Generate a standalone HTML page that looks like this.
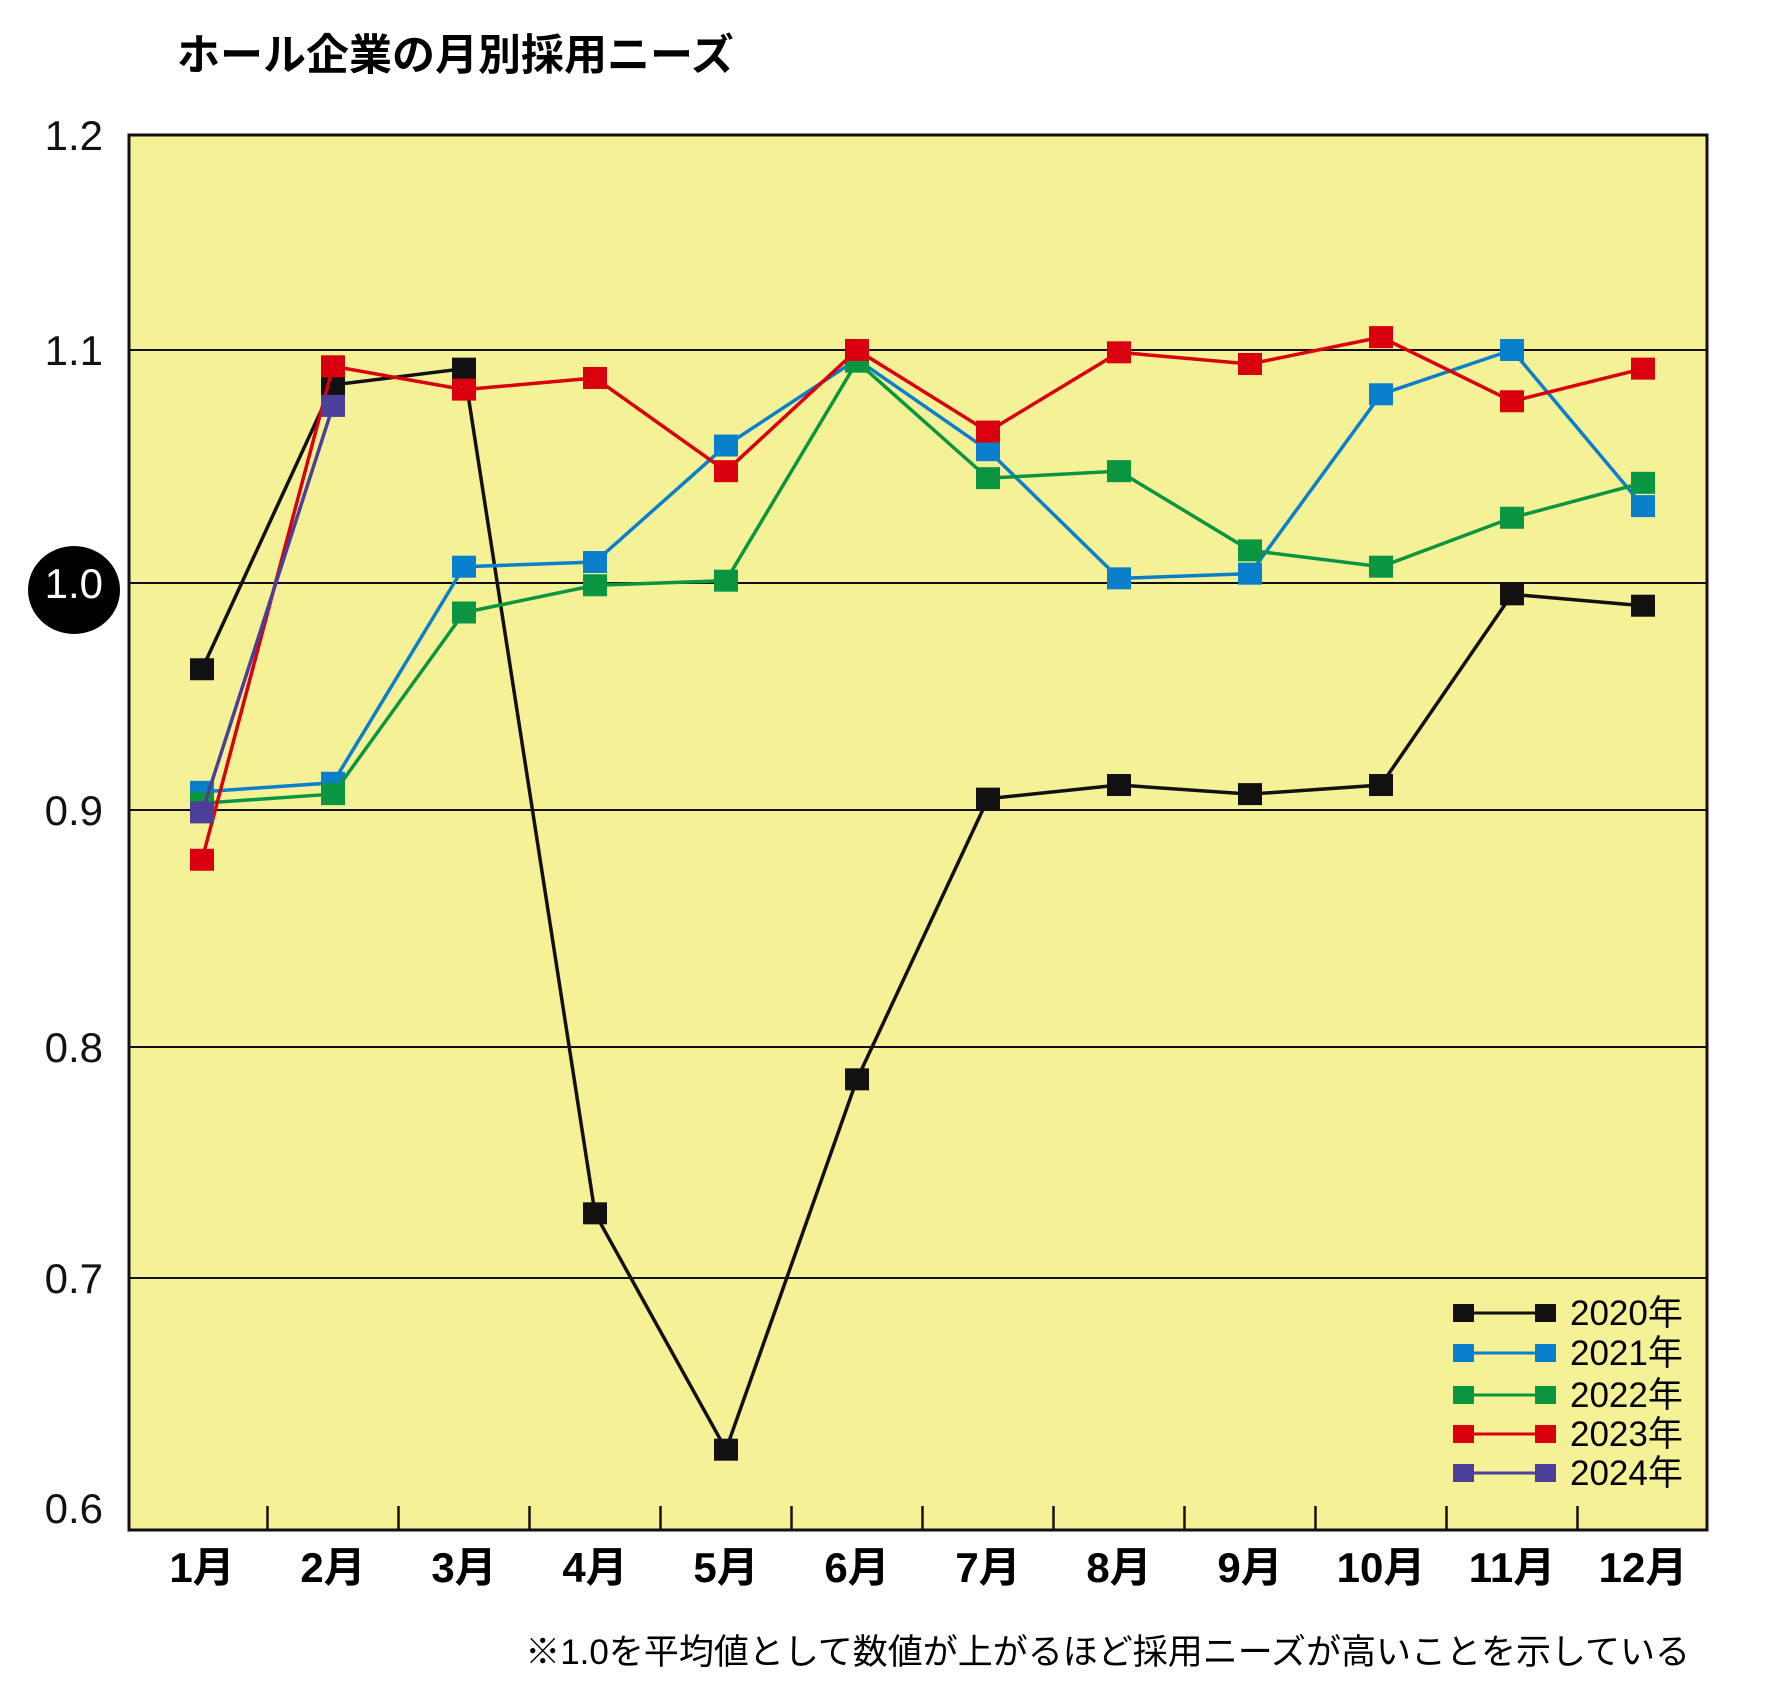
<!DOCTYPE html>
<html><head><meta charset="utf-8"><style>
html,body{margin:0;padding:0;background:#fff;}
svg{display:block;font-family:"Liberation Sans","Noto Sans CJK JP",sans-serif;}
</style></head><body>
<svg id="chart" width="1772" height="1697" viewBox="0 0 1772 1697">
<text x="177" y="70" font-size="43" font-weight="bold">ホール企業の月別採用ニーズ</text>
<rect x="129" y="135" width="1578" height="1395" fill="#F5F196" stroke="#111" stroke-width="3"/>
<g id="grid"></g><g id="yticks"></g><g id="xticks"></g><g id="series"></g><g id="legend"></g>
<text x="1690" y="1664" font-size="35" text-anchor="end">※1.0を平均値として数値が上がるほど採用ニーズが高いことを示している</text>
</svg>
<script>
const months = ["1月","2月","3月","4月","5月","6月","7月","8月","9月","10月","11月","12月"];
const yTicks = [1.2,1.1,1.0,0.9,0.8,0.7,0.6];
const yTickLabels = ["1.2","1.1","1.0","0.9","0.8","0.7","0.6"];
const years = ["2020年","2021年","2022年","2023年","2024年"];
const v2020 = [0.962,1.085,1.092,0.728,0.626,0.786,0.905,0.911,0.907,0.911,0.995,0.990];
const v2021 = [0.908,0.912,1.007,1.009,1.059,1.096,1.057,1.002,1.004,1.081,1.100,1.033];
const v2022 = [0.903,0.907,0.987,0.999,1.001,1.095,1.045,1.048,1.014,1.007,1.028,1.043];
const v2023 = [0.879,1.093,1.083,1.088,1.048,1.100,1.065,1.099,1.094,1.106,1.078,1.092];
const v2024 = [0.899,1.076];
const colors = ["#111111","#0A7FCB","#0A9640","#D9000F","#4C3F98"];
const seriesVals = [v2020,v2021,v2022,v2023,v2024];
const NS="http://www.w3.org/2000/svg";
const gridPx=[135,350,583,810,1047,1278,1510];
function y(v){
  for(let i=0;i<yTicks.length-1;i++){
    const a=yTicks[i],b=yTicks[i+1];
    if(v<=a&&v>=b||i===yTicks.length-2){return gridPx[i]+(a-v)/(a-b)*(gridPx[i+1]-gridPx[i]);}
  }
  return gridPx[0]+(yTicks[0]-v)/0.1*215;
}
function x(i){return 202+131*i;}
function mk(tag,attrs,parent){const e=document.createElementNS(NS,tag);for(const k in attrs)e.setAttribute(k,attrs[k]);parent.appendChild(e);return e;}
const grid=document.getElementById('grid'),yt=document.getElementById('yticks'),xt=document.getElementById('xticks'),sg=document.getElementById('series'),lg=document.getElementById('legend');
yTicks.forEach((t,i)=>{
  const yy=y(t);
  if(i>0&&i<yTicks.length-1){
    const l=mk('line',{x1:129,x2:1707,y1:yy,y2:yy,stroke:'#111','stroke-width':2},grid);
    
    
  }
  if(t===1.0){
    const e=mk('ellipse',{cx:74,cy:yy+7,rx:46,ry:44,fill:'#000'},yt);
    
    
  }
  const tx=mk('text',{x:103,y:(i===yTicks.length-1?1508:yy)+15,'font-size':42,'text-anchor':'end',fill:t===1.0?'#fff':'#111'},yt);
  tx.textContent=yTickLabels[i];
  
  
});
months.forEach((m,i)=>{
  if(i>0){
    const tk=mk('line',{x1:x(i)-65.5,x2:x(i)-65.5,y1:1506,y2:1530,stroke:'#111','stroke-width':2.5},xt);
    
    
  }
  const tx=mk('text',{x:x(i),y:1582,'font-size':42,'font-weight':'600','text-anchor':'middle'},xt);
  tx.textContent=m;
  
  
});
seriesVals.forEach((vals,s)=>{
  const g=mk('g',{},sg);
  
  
  const pts=vals.map((v,i)=>x(i)+','+y(v)).join(' ');
  const pl=mk('polyline',{points:pts,fill:'none',stroke:colors[s],'stroke-width':3.5},g);
  
  
  vals.forEach((v,i)=>{
    const r=mk('rect',{x:x(i)-12,y:y(v)-11,width:24,height:22,fill:colors[s]},g);
    
    
  });
});
const legY=[1313,1353,1395,1434,1473];
years.forEach((yr,s)=>{
  const g=mk('g',{},lg);
  
  
  mk('line',{x1:1464,x2:1546,y1:legY[s],y2:legY[s],stroke:colors[s],'stroke-width':3},g);
  mk('rect',{x:1453,y:legY[s]-9,width:21,height:18,fill:colors[s]},g);
  mk('rect',{x:1535,y:legY[s]-9,width:21,height:18,fill:colors[s]},g);
  const t=mk('text',{x:1570,y:legY[s]+12,'font-size':35},g);
  t.textContent=yr;
});
</script>
</body></html>
